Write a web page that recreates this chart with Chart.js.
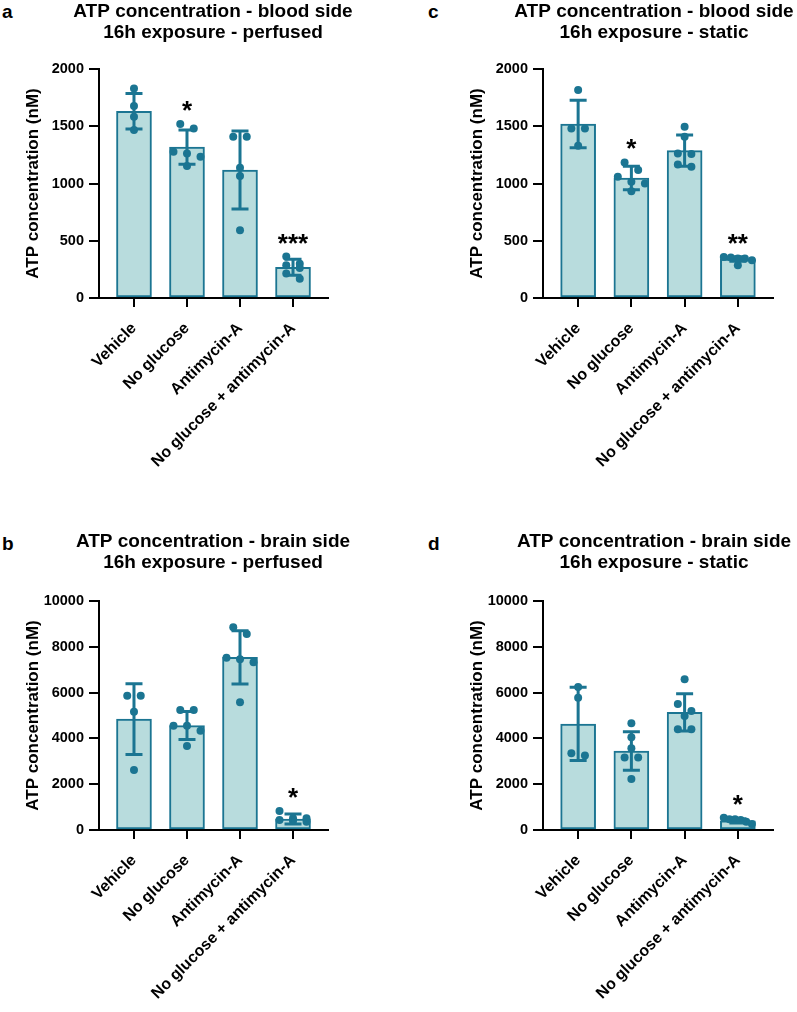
<!DOCTYPE html>
<html>
<head>
<meta charset="utf-8">
<script src="https://cdn.jsdelivr.net/npm/chart.js@4.4.1/dist/chart.umd.min.js"></script>
<style>
  body { margin: 0; background: #fff; width: 797px; height: 1012px; position: relative; overflow: hidden;
         font-family: "Liberation Sans", Arial, sans-serif; }
  .panel { position: absolute; }
  .tag { position: absolute; font-weight: bold; font-size: 19px; line-height: 1; color: #000; }
</style>
</head>
<body>
<div class="tag" style="left:2px;top:2px">a</div>
<div class="tag" style="left:428px;top:2px">c</div>
<div class="tag" style="left:2px;top:534px">b</div>
<div class="tag" style="left:428px;top:534px">d</div>

<canvas id="panelA" class="panel" width="426" height="520" style="left:0;top:0"></canvas>
<canvas id="panelC" class="panel" width="420" height="520" style="left:444px;top:0"></canvas>
<canvas id="panelB" class="panel" width="426" height="482" style="left:0;top:530px"></canvas>
<canvas id="panelD" class="panel" width="420" height="482" style="left:444px;top:530px"></canvas>

<script>
const categories = ['Vehicle', 'No glucose', 'Antimycin-A', 'No glucose + antimycin-A'];
const bloodTicks = [0, 500, 1000, 1500, 2000];
const brainTicks = [0, 2000, 4000, 6000, 8000, 10000];

// a: blood side, perfused
const bloodPerfusedMean = [1630, 1318, 1118, 268];
const bloodPerfusedSd = [155, 150, 340, 70];
const bloodPerfusedPoints = [
  [1830, 1677, 1584, 1467],
  [1519, 1481, 1277, 1263, 1234, 1152],
  [1409, 1409, 1137, 1065, 592],
  [362, 300, 286, 262, 213, 169]
];
const bloodPerfusedStars = ['', '*', '', '***'];

// c: blood side, static
const bloodStaticMean = [1520, 1048, 1287, 340];
const bloodStaticSd = [207, 102, 137, 20];
const bloodStaticPoints = [
  [1817, 1481, 1481, 1330],
  [1184, 1117, 1059, 1015, 1000, 933],
  [1496, 1409, 1263, 1257, 1166, 1146],
  [359, 353, 344, 344, 329, 285]
];
const bloodStaticStars = ['', '*', '', '**'];

// b: brain side, perfused
const brainPerfusedMean = [4840, 4560, 7540, 480];
const brainPerfusedSd = [1543, 612, 1165, 220];
const brainPerfusedPoints = [
  [5866, 5866, 5167, 2620],
  [5240, 5240, 4556, 4556, 4338, 3668],
  [8850, 8559, 7525, 7453, 7322, 5575],
  [830, 509, 509, 437, 393, 364]
];
const brainPerfusedStars = ['', '', '', '*'];

// d: brain side, static
const brainStaticMean = [4630, 3450, 5140, 400];
const brainStaticSd = [1600, 840, 815, 90];
const brainStaticPoints = [
  [6250, 5780, 3350, 3250],
  [4660, 4050, 3570, 3170, 3170, 2230],
  [6580, 5500, 5200, 4980, 4400, 4400],
  [540, 470, 470, 440, 360, 260]
];
const brainStaticStars = ['', '', '', '*'];

const FONT = '"Liberation Sans", Arial, sans-serif';
const TEAL = '#1b7592';
const FILL = '#b8dcdd';
const PLOT_H = 229;     // px height of the plot area
const UNIT_PX = 53;     // px per category step

// spread overlapping dots sideways, row by row (like a column scatter)
function spread(values, yMax) {
  const thr = 8 * yMax / PLOT_H;
  const sorted = values.slice().sort((p, q) => q - p);
  const out = [];
  let i = 0;
  while (i < sorted.length) {
    const row = [sorted[i]];
    let j = i + 1;
    while (j < sorted.length && sorted[i] - sorted[j] < thr) row.push(sorted[j++]);
    const step = row.length > 1 ? Math.min(13.5, 28 / (row.length - 1)) : 0;
    row.forEach((v, k) => out.push({ v, dx: (k - (row.length - 1) / 2) * step / UNIT_PX }));
    i = j;
  }
  return out;
}

function drawPanel(id, titleLines, means, sds, points, stars, yTicks, lay) {
  const canvas = document.getElementById(id);
  const yMax = yTicks[yTicks.length - 1];

  const dots = [];
  points.forEach((vals, i) => {
    spread(vals, yMax).forEach(p => dots.push({ x: i + p.dx, y: p.v }));
  });

  const errorBars = {
    id: 'errorBars',
    afterDatasetsDraw(chart) {
      const { ctx, scales: { x, y } } = chart;
      ctx.save();
      ctx.strokeStyle = TEAL;
      ctx.lineWidth = 3;
      means.forEach((m, i) => {
        const px = x.getPixelForValue(i);
        const top = y.getPixelForValue(m + sds[i]);
        const bot = y.getPixelForValue(Math.max(m - sds[i], 0));
        ctx.beginPath();
        ctx.moveTo(px, top); ctx.lineTo(px, bot);
        ctx.moveTo(px - 8.5, top); ctx.lineTo(px + 8.5, top);
        ctx.moveTo(px - 8.5, bot); ctx.lineTo(px + 8.5, bot);
        ctx.stroke();
      });
      ctx.fillStyle = '#000';
      ctx.font = 'bold 26px ' + FONT;
      ctx.textAlign = 'center';
      ctx.textBaseline = 'alphabetic';
      stars.forEach((s, i) => {
        if (!s) return;
        const peak = Math.max(means[i] + sds[i], ...points[i]);
        ctx.fillText(s, x.getPixelForValue(i), y.getPixelForValue(peak) - 5);
      });
      ctx.restore();
    }
  };

  new Chart(canvas, {
    type: 'bar',
    data: {
      datasets: [
        {
          type: 'scatter',
          data: dots,
          pointRadius: 4,
          pointHoverRadius: 4,
          backgroundColor: TEAL,
          borderWidth: 0,
          order: 1
        },
        {
          type: 'bar',
          data: means.map((m, i) => ({ x: i, y: m })),
          backgroundColor: FILL,
          borderColor: TEAL,
          borderWidth: 2,
          borderSkipped: false,
          barThickness: 35,
          order: 2
        }
      ]
    },
    options: {
      responsive: false,
      animation: false,
      layout: { padding: 0 },
      plugins: {
        legend: { display: false },
        tooltip: { enabled: false },
        title: {
          display: true,
          text: titleLines,
          color: '#000',
          font: { family: FONT, size: 19, weight: 'bold', lineHeight: 1.1 },
          padding: { top: 1.5, bottom: lay.titleGap }
        }
      },
      scales: {
        x: {
          type: 'linear',
          min: -0.66,
          max: 3.66,
          offset: false,
          afterBuildTicks: s => { s.ticks = categories.map((_, i) => ({ value: i })); },
          afterFit: s => { s.height = lay.h - lay.plotBottom; },
          ticks: {
            autoSkip: false,
            minRotation: 45,
            maxRotation: 45,
            padding: 12,
            color: '#000',
            font: { family: FONT, size: 16, weight: 'bold' },
            callback: v => categories[v]
          },
          grid: { display: true, drawOnChartArea: false, drawTicks: true, tickLength: 9, color: '#000', lineWidth: 2, offset: false },
          border: { display: true, color: '#000', width: 2 }
        },
        y: {
          min: 0,
          max: yMax,
          afterBuildTicks: s => { s.ticks = yTicks.map(v => ({ value: v })); },
          afterFit: s => { s.width = 99; },
          ticks: {
            color: '#000',
            padding: 5,
            font: { family: FONT, size: 14.5, weight: 'bold' },
            callback: v => String(v)
          },
          grid: { display: true, drawOnChartArea: false, drawTicks: true, tickLength: 10, color: '#000', lineWidth: 2 },
          border: { display: true, color: '#000', width: 2 },
          title: {
            display: true,
            text: 'ATP concentration (nM)',
            color: '#000',
            font: { family: FONT, size: 17, weight: 'bold' },
            padding: { top: 23, bottom: 0 }
          }
        },
        // empty right-hand box, keeps the title centred over the plot area
        spacer: {
          type: 'linear',
          position: 'right',
          grid: { display: false },
          border: { display: false },
          ticks: { display: false },
          afterFit: s => { s.width = lay.padR; }
        }
      }
    },
    plugins: [errorBars]
  });
}

const left = { padR: 98 };
const right = { padR: 91 };

drawPanel('panelA', ['ATP concentration - blood side', '16h exposure - perfused'],
  bloodPerfusedMean, bloodPerfusedSd, bloodPerfusedPoints, bloodPerfusedStars, bloodTicks,
  { ...left, h: 520, plotBottom: 298, titleGap: 25.7 });
drawPanel('panelC', ['ATP concentration - blood side', '16h exposure - static'],
  bloodStaticMean, bloodStaticSd, bloodStaticPoints, bloodStaticStars, bloodTicks,
  { ...right, h: 520, plotBottom: 298, titleGap: 25.7 });
drawPanel('panelB', ['ATP concentration - brain side', '16h exposure - perfused'],
  brainPerfusedMean, brainPerfusedSd, brainPerfusedPoints, brainPerfusedStars, brainTicks,
  { ...left, h: 482, plotBottom: 300, titleGap: 27.7 });
drawPanel('panelD', ['ATP concentration - brain side', '16h exposure - static'],
  brainStaticMean, brainStaticSd, brainStaticPoints, brainStaticStars, brainTicks,
  { ...right, h: 482, plotBottom: 300, titleGap: 27.7 });
</script>
</body>
</html>
